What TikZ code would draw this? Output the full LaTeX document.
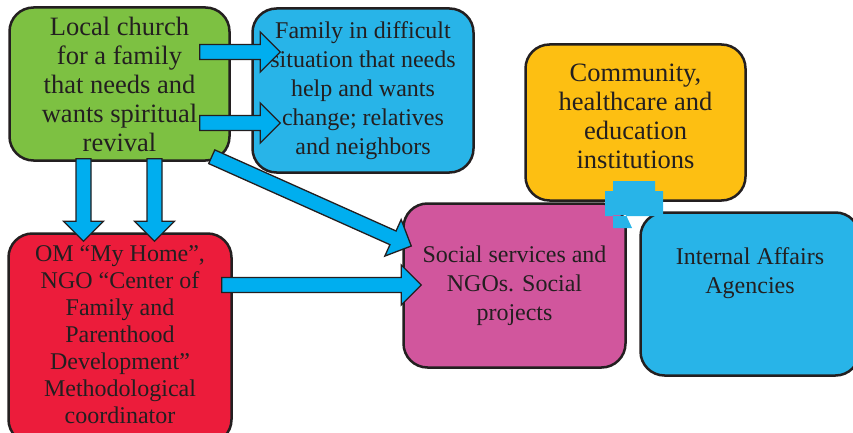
\documentclass[tikz,border=0pt]{standalone}
\usepackage{fontspec}
\setmainfont{Liberation Serif}
\usetikzlibrary{calc}
\definecolor{ink}{HTML}{231F20}
\definecolor{churchgreen}{HTML}{7DC142}
\definecolor{familyblue}{HTML}{28B4E8}
\definecolor{instyellow}{HTML}{FDBF12}
\definecolor{socialpink}{HTML}{D1569D}
\definecolor{omred}{HTML}{EC1C3B}
\definecolor{arrowblue}{HTML}{00AEEF}
\tikzset{
  box/.style={draw=ink, line width=2.5pt, rounded corners=24pt, align=center,
    inner sep=0pt, text=ink, font=\fontsize{24}{29}\selectfont},
  boxtext/.style={align=center, inner sep=0pt, text=ink, font=\fontsize{24}{29}\selectfont},
  bigtext/.style={font=\fontsize{26.5}{29}\selectfont},
  arrowfill/.style={fill=arrowblue, draw=ink, line width=1.3pt, line join=miter},
}
\newcommand{\blockarrow}[2]{%
  \coordinate (ba) at ($(#2)!20pt!(#1)$);
  \draw[arrowfill] ($(#1)!7.5pt!90:(#2)$) -- ($(ba)!7.5pt!-90:(#1)$)
    -- ($(ba)!20pt!-90:(#1)$) -- (#2) -- ($(ba)!20pt!90:(#1)$)
    -- ($(ba)!7.5pt!90:(#1)$) -- ($(#1)!7.5pt!-90:(#2)$) -- cycle;
}
\begin{document}
\begin{tikzpicture}[x=1pt,y=-1pt]
  \useasboundingbox (0,0) rectangle (853,433);
  \node[box, bigtext, fill=churchgreen, minimum width=220pt, minimum height=153pt] (church) at (119.5,84)
    {Local church\\for a family\\that needs and\\wants spiritual\\revival};
  \node[box, fill=familyblue, minimum width=221pt, minimum height=164pt] (family) at (363,90.5)
    {Family in difficult\\situation that needs\\help and wants\\change; relatives\\and neighbors};
  \node[box, fill=instyellow, minimum width=220pt, minimum height=156pt] (community) at (635.5,122.5) {};
  \node[boxtext, bigtext] (communitytext) at ($(community.center)+(0,-6)$)
    {Community,\\healthcare and\\education\\institutions};
  \node[box, fill=socialpink, minimum width=222pt, minimum height=164pt] (social) at (514.5,285.5)
    {Social services and\\NGOs. Social\\projects};
  \node[box, fill=familyblue, minimum width=219pt, minimum height=163pt] (internal) at (750,294) {};
  \node[boxtext] (internaltext) at ($(internal.center)+(0,-21)$) {Internal Affairs\\Agencies};
  \node[box, fill=omred, minimum width=223pt, minimum height=210pt,
    font=\fontsize{24}{27}\selectfont] (om) at (120,338.5) {};
  \node[boxtext, font=\fontsize{24}{27}\selectfont] (omtext) at ($(om.center)+(0,-4)$)
    {OM “My Home”,\\NGO “Center of\\Family and\\Parenthood\\Development”\\Methodological\\coordinator};

  \coordinate (a1) at ($(church.east)+(-31,-32)$);
  \coordinate (b1) at ($(family.west)+(29,-38.5)$);
  \coordinate (a2) at ($(church.east)+(-31,39)$);
  \coordinate (b2) at ($(family.west)+(29,32.5)$);
  \coordinate (d1) at ($(church.south)+(-36,-3)$);
  \coordinate (e1) at ($(om.north)+(-36.5,9)$);
  \coordinate (d2) at ($(church.south)+(35,-3)$);
  \coordinate (e2) at ($(om.north)+(34.5,9)$);
  \coordinate (g1) at ($(church.south east)+(-19,-5)$);
  \coordinate (h1) at ($(social.west)+(9,-39.5)$);
  \coordinate (g2) at ($(om.east)+(-11,-53.5)$);
  \coordinate (h2) at ($(social.west)+(19,-0.5)$);
  \blockarrow{a1}{b1}
  \blockarrow{a2}{b2}
  \blockarrow{d1}{e1}
  \blockarrow{d2}{e2}
  \blockarrow{g1}{h1}
  \blockarrow{g2}{h2}

  \fill[familyblue] (613,181) rectangle (655,192) (605,191) rectangle (663,216)
    (613,215) -- (626,215) -- (632,228) -- (613,228) -- cycle;
\end{tikzpicture}
\end{document}
